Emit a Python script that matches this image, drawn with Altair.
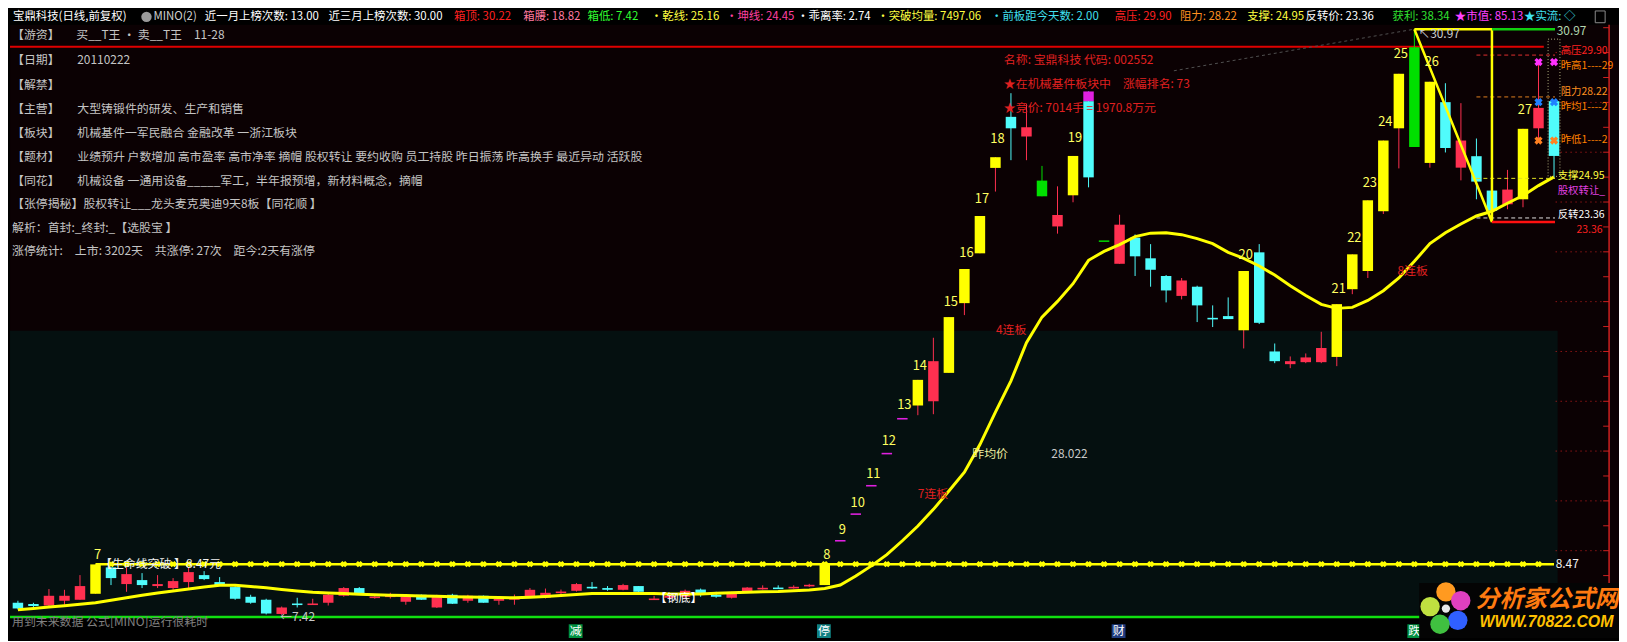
import altair as alt
import pandas as pd

# ---------------- reference geometry (layout constants, not data) ----------------
X0, DX = 8.0, 15.69       # centre of first bar and bar spacing (reference px)
P0, K = 31.79, 25.38      # price at reference y=0 and px per price unit
HALF = 5.3                # half candle width
FONT = "Noto Sans CJK SC"

# ---------------- candle data (prices) ----------------
OPEN = [7.91, 7.86, 7.80, 7.99, 8.03, 8.27, 9.33, 8.66, 8.82, 8.58,
        8.50, 8.74, 9.02, 8.74, 8.54, 8.15, 8.03, 7.46, 7.88, 7.87,
        7.91, 8.19, 8.50, 8.14, 8.17, 7.95, 8.23, 7.72, 8.23, 7.99,
        8.19, 7.99, 8.03, 8.15, 8.11, 8.34, 8.39, 8.55, 8.50, 8.43,
        8.58, 8.06, 8.11, 8.15, 8.44, 8.23, 8.11, 8.35, 8.49, 8.52,
        8.53, 8.61, 8.62, 10.43, 11.50, 12.64, 13.93, 15.33, 15.83, 16.00,
        17.14, 19.94, 21.94, 25.37, 27.42, 26.63, 24.86, 23.02, 24.27, 28.05,
        22.46, 21.52, 22.57, 21.74, 21.03, 20.23, 20.60, 19.35, 19.42, 18.85,
        21.98, 18.00, 17.49, 17.57, 17.57, 17.78, 20.50, 21.23, 23.63, 26.96,
        30.21, 25.57, 28.01, 25.38, 25.84, 24.46, 23.91, 24.11, 26.96, 28.05]
HIGH = [7.99, 7.91, 8.46, 8.43, 9.02, 9.45, 9.33, 9.33, 9.10, 9.02,
        8.90, 9.33, 9.18, 8.94, 8.58, 8.23, 8.07, 7.76, 8.11, 8.07,
        8.27, 8.54, 8.54, 8.23, 8.31, 8.19, 8.24, 8.23, 8.27, 8.23,
        8.20, 8.12, 8.24, 8.50, 8.48, 8.44, 8.70, 8.74, 8.58, 8.67,
        8.58, 8.19, 8.27, 8.44, 8.48, 8.35, 8.35, 8.54, 8.61, 8.61,
        8.61, 8.67, 9.45, 10.43, 11.50, 12.64, 13.93, 15.33, 16.86, 18.55,
        19.38, 21.31, 23.44, 25.80, 28.37, 27.93, 25.45, 24.63, 25.85, 28.44,
        22.46, 23.49, 22.70, 22.31, 21.07, 20.95, 20.64, 19.85, 20.17, 21.23,
        22.31, 18.32, 17.80, 17.92, 18.79, 19.90, 21.90, 24.07, 26.47, 29.15,
        30.94, 28.83, 28.77, 27.97, 26.55, 24.60, 25.29, 26.94, 29.62, 28.05]
LOW = [7.64, 7.72, 7.72, 7.83, 8.03, 8.27, 8.62, 8.35, 8.50, 8.50,
       8.43, 8.50, 8.82, 8.58, 8.03, 7.87, 7.44, 7.42, 7.72, 7.83,
       7.80, 8.15, 8.24, 8.07, 8.08, 7.83, 8.02, 7.70, 7.86, 7.91,
       7.91, 7.83, 7.83, 8.12, 8.08, 8.19, 8.36, 8.46, 8.39, 8.41,
       8.34, 8.02, 8.03, 8.04, 8.15, 8.11, 8.08, 8.31, 8.44, 8.48,
       8.48, 8.54, 8.62, 10.43, 11.50, 12.64, 13.93, 15.33, 15.44, 15.48,
       17.14, 19.46, 21.94, 24.42, 25.68, 25.68, 24.23, 22.73, 23.99, 24.59,
       22.46, 21.52, 21.03, 20.60, 19.97, 20.09, 19.18, 18.98, 19.30, 18.12,
       19.10, 17.53, 17.33, 17.53, 17.53, 17.41, 20.30, 20.95, 23.52, 25.35,
       26.21, 25.38, 25.99, 24.87, 24.11, 23.59, 23.71, 23.79, 26.47, 24.97]
CLOSE = [7.68, 7.78, 8.19, 8.19, 8.58, 9.45, 8.90, 9.06, 8.62, 8.66,
         8.78, 9.14, 8.86, 8.62, 8.07, 7.91, 7.48, 7.72, 7.87, 7.88,
         8.23, 8.50, 8.27, 8.16, 8.20, 8.15, 8.03, 8.19, 7.87, 8.19,
         7.91, 8.07, 8.11, 8.43, 8.31, 8.36, 8.66, 8.53, 8.43, 8.62,
         8.35, 8.08, 8.19, 8.39, 8.23, 8.15, 8.28, 8.52, 8.51, 8.49,
         8.55, 8.63, 9.45, 10.43, 11.50, 12.64, 13.93, 15.33, 16.86, 17.61,
         19.38, 21.31, 23.44, 25.80, 26.96, 27.00, 24.23, 23.48, 25.85, 24.99,
         22.46, 23.09, 21.82, 21.28, 20.45, 20.85, 19.85, 19.34, 19.30, 21.23,
         19.15, 17.61, 17.61, 17.76, 18.14, 19.90, 21.90, 24.07, 26.47, 29.15,
         26.21, 28.83, 26.17, 26.47, 24.82, 23.65, 24.50, 26.94, 27.78, 25.85]
KIND = ["down", "down", "up", "up", "up", "zt", "down", "up", "down", "up",
        "up", "up", "down", "down", "down", "down", "down", "up", "down", "up",
        "up", "up", "down", "up", "up", "up", "down", "up", "down", "up",
        "down", "up", "up", "up", "up", "up", "up", "down", "down", "up",
        "down", "up", "up", "up", "down", "down", "up", "up", "up", "down",
        "up", "up", "zt", "one", "one", "one", "one", "one", "zt", "up",
        "zt", "zt", "zt", "zt", "down", "up", "dt", "up", "zt", "down",
        "dtone", "up", "down", "down", "down", "up", "down", "down", "down", "zt",
        "down", "down", "up", "up", "up", "zt", "zt", "zt", "zt", "zt",
        "dt", "zt", "down", "up", "down", "down", "up", "zt", "up", "down"]

# smoothed yellow average line, one value per bar
MA = [7.63, 7.68, 7.74, 7.79, 7.85, 7.91, 8.01, 8.11, 8.21, 8.30,
      8.38, 8.46, 8.54, 8.61, 8.61, 8.56, 8.51, 8.44, 8.38, 8.33,
      8.30, 8.28, 8.25, 8.23, 8.21, 8.20, 8.18, 8.17, 8.15, 8.14,
      8.13, 8.12, 8.11, 8.13, 8.16, 8.20, 8.24, 8.28, 8.28, 8.28,
      8.28, 8.28, 8.26, 8.26, 8.26, 8.29, 8.31, 8.33, 8.35, 8.36,
      8.39, 8.42, 8.48, 8.62, 8.98, 9.39, 9.84, 10.40, 10.99, 11.66,
      12.40, 13.15, 14.26, 15.56, 16.82, 18.35, 19.38, 20.01, 20.72, 21.66,
      22.02, 22.29, 22.61, 22.75, 22.77, 22.69, 22.53, 22.33, 21.98, 21.74,
      21.43, 21.07, 20.64, 20.25, 19.89, 19.73, 19.77, 20.05, 20.44, 20.95,
      21.62, 22.33, 22.77, 23.12, 23.44, 23.63, 23.95, 24.26, 24.66, 25.01]

# limit-up counters
LIMIT_BARS = [5, 52, 53, 54, 55, 56, 57, 58, 60, 61, 62, 63, 68, 79, 85, 86, 87, 88, 89, 91, 97]
LIMIT_NUMS = [7, 8, 9, 10, 11, 12, 13, 14, 15, 16, 17, 18, 19, 20, 21, 22, 23, 24, 25, 26, 27]

# levels
LIFE_LEVEL = 9.46
LIFE_FROM, LIFE_TO = 5, 99
LEVEL_NAMES = ["高压", "阻力", "支撑", "反转"]
LEVEL_PRICES = [29.90, 28.22, 24.95, 23.36]
PEAK_HIGH, TROUGH = 30.94, 23.20
MARK_BARS = [98, 98, 98, 99, 99, 99]
MARK_PRICES = [29.62, 28.01, 26.47, 29.62, 28.01, 26.47]
MARK_NAMES = ["昨高", "昨均", "昨低", "昨高", "昨均", "昨低"]
CAP_BAR, CAP_LO, CAP_HI = [69], [28.05], [28.44]
GRID_PRICES = [10, 12, 14, 16, 18, 20, 22, 24, 26, 28, 30]
TICK_PRICES = list(range(8, 32))

# ---------------- styles ----------------
BODY_COLOR = {"up": "#ff3050", "down": "#50fcfc", "zt": "#ffff00", "dt": "#00e000",
              "one": "#e020e0", "dtone": "#00d000"}
WICK_COLOR = {"up": "#ff3050", "down": "#50fcfc", "zt": "#ff3050", "dt": "#00e000",
              "one": "#e020e0", "dtone": "#00d000"}
MARK_COLOR = {"昨高": "#ff30ff", "昨均": "#2080ff", "昨低": "#ff8020"}
LEVEL_COLOR = {"高压": "#e03030", "阻力": "#e08020", "支撑": "#e0e020", "反转": "#e0e0e0"}

XDOM = [4, 1623]
YDOM = [638, 4]


def xs(f):
    return alt.X(f, type="quantitative", scale=alt.Scale(domain=XDOM, nice=False, zero=False), axis=None)


def ys(f):
    return alt.Y(f, type="quantitative", scale=alt.Scale(domain=YDOM, nice=False, zero=False), axis=None)


PX = f"{X0} + {DX} * datum.i"


def PY(f):
    return f"({P0} - datum.{f}) * {K}"


def texts(items, size=12, align="left", baseline="middle", weight="normal", style="normal", font=FONT):
    df = pd.DataFrame(items, columns=["px", "py", "text", "color"])
    return alt.Chart(df).mark_text(align=align, baseline=baseline, fontSize=size, fontWeight=weight,
                                   fontStyle=style, font=font).encode(
        x=xs("px"), y=ys("py"), text="text:N", color=alt.Color("color:N", scale=None))


def rects(items, **kw):
    df = pd.DataFrame(items, columns=["x1", "x2", "y1", "y2", "color"])
    return alt.Chart(df).mark_rect(**kw).encode(
        x=xs("x1"), x2=alt.X2("x2"), y=ys("y1"), y2=alt.Y2("y2"), color=alt.Color("color:N", scale=None))


def hlines(items, **kw):
    df = pd.DataFrame(items, columns=["x1", "x2", "py", "color"])
    return alt.Chart(df).mark_rule(**kw).encode(
        x=xs("x1"), x2=alt.X2("x2"), y=ys("py"), color=alt.Color("color:N", scale=None))


layers = []

# backgrounds (layout)
layers.append(rects([
    [0, 1627, 17, 620, "#0b0103"],
    [0, 1565, 329, 620, "#051010"],
]))

# right price axis grid / ticks
grid = pd.DataFrame({"p": GRID_PRICES})
layers.append(alt.Chart(grid).transform_calculate(py=PY("p"), x1="1563", x2="1613").mark_rule(
    color="#d02020", strokeDash=[1, 4], strokeWidth=1).encode(
    x=xs("x1"), x2=alt.X2("x2"), y=ys("py")))
ticks = pd.DataFrame({"p": TICK_PRICES})
layers.append(alt.Chart(ticks).transform_calculate(py=PY("p"), x1="1611", x2="1617").mark_rule(
    color="#d02020", strokeWidth=1).encode(
    x=xs("x1"), x2=alt.X2("x2"), y=ys("py")))
axis_df = pd.DataFrame({"px": [1617], "y1": [17], "y2": [642]})
layers.append(alt.Chart(axis_df).mark_rule(color="#d02020", strokeWidth=1.5).encode(
    x=xs("px"), y=ys("y1"), y2=alt.Y2("y2")))

# red line under the info rows, green bottom line
layers.append(hlines([[0, 1551, 39.5, "#e00000"]], strokeWidth=2))
layers.append(hlines([[0, 1562, 620.5, "#10e010"]], strokeWidth=2.5))

# candles
bars = pd.DataFrame({"i": range(len(OPEN)), "o": OPEN, "h": HIGH, "l": LOW, "c": CLOSE, "kind": KIND})
bars["body"] = [BODY_COLOR[k] for k in KIND]
bars["wick"] = [WICK_COLOR[k] for k in KIND]
cbase = alt.Chart(bars).transform_calculate(
    px=PX, pxl=f"{X0} + {DX} * datum.i - {HALF}", pxr=f"{X0} + {DX} * datum.i + {HALF}",
    yh=PY("h"), yl=PY("l"), yo=PY("o"), yc=PY("c")).transform_calculate(
    yt="min(datum.yo, datum.yc)", yb="max(max(datum.yo, datum.yc), min(datum.yo, datum.yc) + 1.6)")
layers.append(cbase.mark_rule(strokeWidth=1).encode(
    x=xs("px"), y=ys("yh"), y2=alt.Y2("yl"), color=alt.Color("wick:N", scale=None)))
layers.append(cbase.mark_rect().encode(
    x=xs("pxl"), x2=alt.X2("pxr"), y=ys("yt"), y2=alt.Y2("yb"), color=alt.Color("body:N", scale=None)))

cap = pd.DataFrame({"i": CAP_BAR, "lo": CAP_LO, "hi": CAP_HI})
layers.append(alt.Chart(cap).transform_calculate(
    pxl=f"{X0} + {DX} * datum.i - {HALF}", pxr=f"{X0} + {DX} * datum.i + {HALF}",
    y1=PY("hi"), y2=PY("lo")).mark_rect(color="#e020e0").encode(
    x=xs("pxl"), x2=alt.X2("pxr"), y=ys("y1"), y2=alt.Y2("y2")))

# life line with x markers
life = pd.DataFrame({"a": [LIFE_FROM], "b": [LIFE_TO], "p": [LIFE_LEVEL]})
layers.append(alt.Chart(life).transform_calculate(
    x1=f"{X0} + {DX} * datum.a", x2=f"{X0} + {DX} * datum.b", py=PY("p")).mark_rule(
    color="#ffff00", strokeWidth=2.5).encode(x=xs("x1"), x2=alt.X2("x2"), y=ys("py")))
marks_life = pd.DataFrame({"i": list(range(LIFE_FROM + 1, LIFE_TO)), "p": LIFE_LEVEL})
layers.append(alt.Chart(marks_life).transform_calculate(px=PX, py=PY("p")).mark_point(
    shape="cross", angle=45, filled=True, size=42, color="#ffff00", opacity=1).encode(
    x=xs("px"), y=ys("py")))

# moving-average line
ma = pd.DataFrame({"i": range(len(MA)), "m": MA})
layers.append(alt.Chart(ma).transform_calculate(px=PX, py=PY("m")).mark_line(
    color="#ffff00", strokeWidth=3).encode(x=xs("px"), y=ys("py"), order="i:Q"))

# level lines at right
lv = pd.DataFrame({"name": LEVEL_NAMES, "p": LEVEL_PRICES})
lv["color"] = [LEVEL_COLOR[n] for n in LEVEL_NAMES]
layers.append(alt.Chart(lv).transform_calculate(
    x1=f"{X0} + {DX} * 94", x2=f"{X0} + {DX} * 99 + 1", py=PY("p")).mark_rule(
    strokeDash=[4, 3], strokeWidth=1).encode(
    x=xs("x1"), x2=alt.X2("x2"), y=ys("py"), color=alt.Color("color:N", scale=None)))

# peak triangle, top green line, bottom red line
tri = pd.DataFrame({"i": [90, 95, 95, 90], "p": [PEAK_HIGH, TROUGH, PEAK_HIGH, PEAK_HIGH], "o": [0, 1, 2, 3]})
layers.append(alt.Chart(tri).transform_calculate(px=PX, py=PY("p")).mark_line(
    color="#ffff00", strokeWidth=2.5).encode(x=xs("px"), y=ys("py"), order="o:Q"))
seg = pd.DataFrame({"a": [95, 95], "b": [99, 99], "p": [PEAK_HIGH, TROUGH],
                    "color": ["#10d010", "#ff1010"]})
layers.append(alt.Chart(seg).transform_calculate(
    x1=f"{X0} + {DX} * datum.a", x2=f"{X0} + {DX} * datum.b + 1", py=PY("p")).mark_rule(
    strokeWidth=2.5).encode(x=xs("x1"), x2=alt.X2("x2"), y=ys("py"), color=alt.Color("color:N", scale=None)))
faint = pd.DataFrame({"i": [74.5, 90], "p": [29.27, PEAK_HIGH]})
layers.append(alt.Chart(faint).transform_calculate(px=PX, py=PY("p")).mark_line(
    color="#505050", strokeDash=[3, 3], strokeWidth=1).encode(x=xs("px"), y=ys("py")))

# dotted box around last bar
box = pd.DataFrame({"i": [99], "hi": [30.54], "lo": [25.03]})
layers.append(alt.Chart(box).transform_calculate(
    x1=f"{X0} + {DX} * datum.i - 6", x2=f"{X0} + {DX} * datum.i + 6", y1=PY("hi"), y2=PY("lo")).mark_rect(
    fillOpacity=0, stroke="#b0b080", strokeDash=[1, 2], strokeWidth=1).encode(
    x=xs("x1"), x2=alt.X2("x2"), y=ys("y1"), y2=alt.Y2("y2")))

# limit-up counters
lim = pd.DataFrame({"i": LIMIT_BARS, "n": LIMIT_NUMS})
lim = lim.merge(bars[["i", "h"]], on="i")
layers.append(alt.Chart(lim).transform_calculate(
    px=f"{X0} + {DX} * datum.i + 2", py=f"({P0} - datum.h * 1.02) * {K} + 2").mark_text(
    fontSize=13, font=FONT, baseline="bottom", align="center", color="#ffff60").encode(
    x=xs("px"), y=ys("py"), text="n:N"))

# yesterday markers
mk = pd.DataFrame({"i": MARK_BARS, "p": MARK_PRICES, "name": MARK_NAMES})
mk["color"] = [MARK_COLOR[n] for n in MARK_NAMES]
layers.append(alt.Chart(mk).transform_calculate(px=PX, py=PY("p")).mark_point(
    shape="cross", angle=45, filled=True, size=70, opacity=1).encode(
    x=xs("px"), y=ys("py"), color=alt.Color("color:N", scale=None)))

# ---------------- texts ----------------
GRAY = "#c4c4c4"
SP = "\u3000"
header = [
    [3, 9, "宝鼎科技(日线,前复权)", "#ffffff"],
    [145, 9, "MINO(2)", "#d0d0d0"],
    [197, 9, "近一月上榜次数: 13.00", "#ffffff"],
    [322, 9, "近三月上榜次数: 30.00", "#ffffff"],
    [449, 9, "箱顶: 30.22", "#ff2020"],
    [519, 9, "箱腰: 18.82", "#ff7aa0"],
    [584, 9, "箱低: 7.42", "#30ff30"],
    [648, 9, "•乾线: 25.16", "#ffff40"],
    [724, 9, "•坤线: 24.45", "#ff40a0"],
    [796, 9, "•乖离率: 2.74", "#ffffff"],
    [877, 9, "•突破均量: 7497.06", "#ffff40"],
    [992, 9, "•前板距今天数: 2.00", "#40e0f0"],
    [1117, 9, "高压: 29.90", "#ff2020"],
    [1183, 9, "阻力: 28.22", "#ff9020"],
    [1251, 9, "支撑: 24.95", "#ffff40"],
    [1310, 9, "反转价: 23.36", "#ffffff"],
    [1398, 9, "获利: 38.34", "#30e030"],
    [1461, 9, "★市值: 85.13", "#ff40ff"],
    [1531, 9, "★实流: ◇", "#40e0f0"],
]
layers.append(alt.Chart(pd.DataFrame({"px": [138], "py": [9]})).mark_point(
    shape="circle", filled=True, size=110, color="#9a9a9a", opacity=1).encode(x=xs("px"), y=ys("py")))
layers.append(rects([[1603, 1613, 3, 15, "#000000"]], stroke="#8a8a8a", strokeWidth=1))
layers.append(texts(header, size=11.5))

panel = [
    [2, 28, "【游资】", GRAY], [67, 28, "买__T王 • 卖__T王" + SP + "11-28", GRAY],
    [2, 53, "【日期】", GRAY], [68, 53, "20110222", GRAY],
    [2, 78, "【解禁】", GRAY],
    [2, 102.5, "【主营】", GRAY], [68, 102.5, "大型铸锻件的研发、生产和销售", GRAY],
    [2, 127, "【板块】", GRAY], [68, 127, "机械基件一军民融合 金融改革 一浙江板块", GRAY],
    [2, 151.5, "【题材】", GRAY],
    [68, 151.5, "业绩预升 户数增加 高市盈率 高市净率 摘帽 股权转让 要约收购 员工持股 昨日振荡 昨高换手 最近异动 活跃股", GRAY],
    [2, 176, "【同花】", GRAY], [68, 176, "机械设备 一通用设备_____军工，半年报预增，新材料概念，摘帽", GRAY],
    [2, 200, "【张停揭秘】股权转让___龙头麦克奥迪9天8板【同花顺 】", GRAY],
    [2, 224, "解析：首封:_终封:_【选股宝 】", GRAY],
    [2, 248, "涨停统计:" + SP + "上市: 3202天" + SP + "共涨停: 27次" + SP + "距今:2天有涨停", GRAY],
]
layers.append(texts(panel))

RED = "#e02020"
info = [
    [1005, 53, "名称: 宝鼎科技 代码: 002552", RED],
    [1005, 77, "★在机械基件板块中" + SP + "涨幅排名: 73", RED],
    [1005, 102, "★竞价: 7014手 = 1970.8万元", RED],
    [997, 328, "4连板", RED],
    [918, 495, "7连板", RED],
    [1403, 268, "8连板", RED],
    [973, 455, "昨均价", "#f0f0a0"],
    [1053, 455, "28.022", "#c8c8c8"],
    [652, 601, "【钢底】", "#ffffff"],
    [273, 621, "←7.42", "#c8c8c8"],
    [91, 567, "【生命线突破 】8.47元", "#f0f0f0"],
    [1563, 567, "8.47", "#f0f0f0"],
    [1424, 27, "↖30.97", "#d0d0d0"],
    [1564, 23, "30.97", "#b0d8b0"],
    [2, 626, "用到未来数据 公式[MINO]运行很耗时", "#808080"],
]
layers.append(texts(info))

side = [
    [1568, 44, "高压29.90", "#ff2020"],
    [1568, 59, "昨高1----29", "#ff8000"],
    [1568, 86, "阻力28.22", "#ff9020"],
    [1568, 101, "昨均1----2", "#ff8000"],
    [1568, 135, "昨低1----2", "#ff8000"],
    [1565, 171, "支撑24.95", "#ffff40"],
    [1565, 186, "股权转让_", "#e040e0"],
    [1565, 211, "反转23.36", "#ffffff"],
    [1584, 226, "23.36", "#ff2020"],
]
layers.append(texts(side, size=10.5))

# bottom tags
tags = [[572, "减", "#009040"], [823, "停", "#108080"], [1121, "财", "#203c80"], [1420, "跌", "#009040"]]
layers.append(rects([[t[0] - 7, t[0] + 7, 628, 642, t[2]] for t in tags]))
layers.append(texts([[t[0], 635, t[1], "#ffffff"] for t in tags], align="center"))

# watermark logo
layers.append(rects([[1425, 1627, 586, 642, "#040404"]]))
petals = pd.DataFrame({
    "px": [1452, 1467, 1464, 1446, 1436, 1452],
    "py": [595, 604, 624, 628, 610, 612],
    "color": ["#ff9a20", "#e040c0", "#3060ff", "#40c040", "#c0e040", "#e8e8e8"],
    "s": [380, 380, 380, 380, 380, 70],
})
layers.append(alt.Chart(petals).mark_point(shape="circle", filled=True, opacity=1).encode(
    x=xs("px"), y=ys("py"), color=alt.Color("color:N", scale=None), size=alt.Size("s:Q", scale=None)))
layers.append(texts([[1482, 603, "分析家公式网", "#ff7a10"]], size=24, weight="bold", style="italic"))
layers.append(texts([[1486, 626, "WWW.70822.COM", "#ffc000"]], size=16, weight="bold", style="italic",
                    font="Liberation Sans"))

chart = alt.layer(*layers).properties(width=1611, height=626, padding=0, background="#000000").configure_view(
    stroke=None)
chart.save("out.html", embed_options={"renderer": "svg", "actions": False})
